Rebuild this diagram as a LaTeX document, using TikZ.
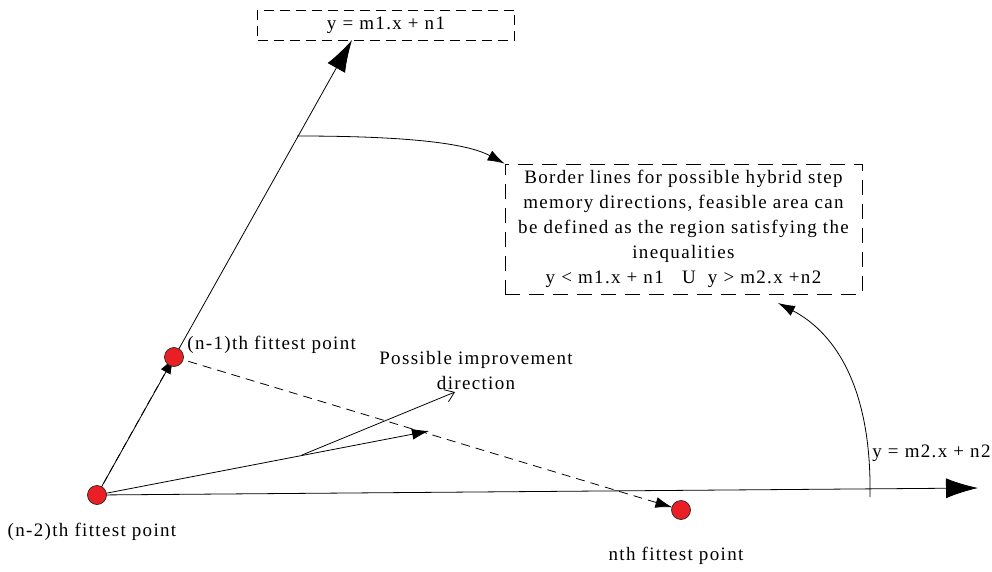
\documentclass[tikz,border=0pt]{standalone}
\usepackage{fontspec}
\setmainfont{Liberation Serif}[LetterSpace=7]
\usetikzlibrary{arrows.meta}
\definecolor{dotred}{RGB}{232,32,38}
\begin{document}
\begin{tikzpicture}[x=1pt, y=-1pt, font=\fontsize{19}{25}\selectfont, line width=0.8pt,
          >={Latex[length=17pt,width=11pt]},
          pt/.style={circle, draw=black!85, line width=0.7pt, fill=dotred, inner sep=0pt, minimum size=19pt},
          big/.style={-{Latex[length=32pt,width=20pt]}},
          lbl/.style={inner sep=0pt},
          eqbox/.style={draw, dash pattern=on 10pt off 6pt, inner sep=0pt},
          border/.style={draw, dash pattern=on 15pt off 9pt, inner sep=0pt}]
        \useasboundingbox (0,0) rectangle (992,572);
        \coordinate (P0) at (97,495);
        \coordinate (P1) at (174,357);
        \coordinate (P2) at (681,510);
        \coordinate (T1) at (352,40);
        \coordinate (T2) at (978,488);
        \coordinate (D) at (429,431);
        \coordinate (M) at (302,455);
        \coordinate (E) at (455,392);
        \coordinate (S1) at (297,136);
        \coordinate (S2) at (870,497);
        \coordinate (F) at (778,303);
        \node[eqbox, minimum width=257pt, minimum height=30pt] (L1) at (386,25) {y = m1.x + n1};
        \node[border, minimum width=357pt, minimum height=130pt, align=center] (R) at (683.5,229)
          {Border lines for possible hybrid step\\
           memory directions, feasible area can\\
           be defined as the region satisfying the\\
           inequalities\\
           y < m1.x + n1 \ \ U \ y > m2.x +n2};
        \draw[big] (P0) -- (T1);
        \draw[big] (P0) -- (T2);
        \draw[->] (P0) -- (D);
        \draw[-{Straight Barb[length=9pt,width=13pt]}] (M) -- (E);
        \draw[->, dash pattern=on 8pt off 5pt] (P0) -- (P1);
        \draw[->, dash pattern=on 9pt off 6pt, shorten >=9pt] (P1) -- (P2);
        \draw[->] (S1) .. controls (420,136) and (470,145) .. (R.north west);
        \draw[->] (S2) .. controls (872,380) and (830,330) .. (F);
        \node[pt] (N0) at (P0) {};
        \node[pt] (N1) at (P1) {};
        \node[pt] (N2) at (P2) {};
        \node[lbl, anchor=west] (t1) at (187,345) {(n-1)th fittest point};
        \node[lbl] (t0) at (92,532) {(n-2)th fittest point};
        \node[lbl] (t2) at (676,556) {nth fittest point};
        \node[lbl, align=center] (tE) at (476,370) {Possible improvement\\direction};
        \node[lbl, anchor=west] (tL2) at (872,453) {y = m2.x + n2};
      \end{tikzpicture}
\end{document}
